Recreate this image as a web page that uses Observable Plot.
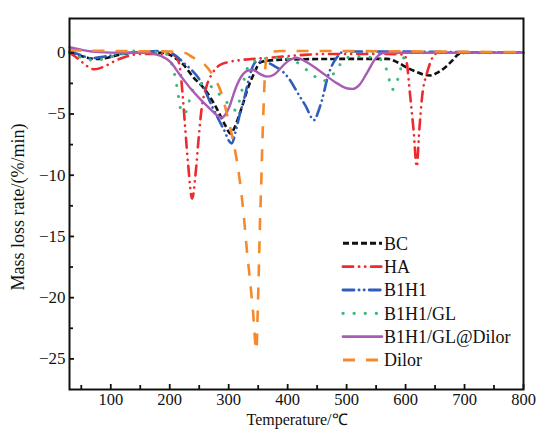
<!DOCTYPE html>
<html><head><meta charset="utf-8">
<script src="https://cdn.jsdelivr.net/npm/d3@7"></script>
<script src="https://cdn.jsdelivr.net/npm/@observablehq/plot@0.6"></script>
<style>body{margin:0;background:#fff}#chart{width:540px;height:429px}</style>
</head><body><div id="chart"></div>
<script>
// ---- data (temperature °C, mass loss rate %/min) ----
const bc = [[30,0],[45,-0.2],[60,-0.4],[75,-0.5],[95,-0.4],[115,-0.15],[135,0],[190,0],[205,-0.3],[222,-0.9],[240,-2.0],[258,-2.9],[278,-4.4],[295,-6.0],[303,-6.6],[310,-6.1],[317,-5.2],[324,-4.2],[331,-3.1],[342,-1.8],[353,-0.8],[365,-0.65],[400,-0.55],[500,-0.5],[570,-0.5],[585,-0.75],[602,-1.2],[618,-1.55],[632,-1.8],[642,-1.85],[655,-1.6],[667,-1.2],[680,-0.6],[690,-0.1],[700,0],[800,0]];
const ha = [[30,0],[45,-0.5],[60,-1.1],[72,-1.35],[90,-1.1],[110,-0.6],[130,-0.25],[150,-0.1],[200,-0.1],[212,-0.4],[218,-1.5],[222,-3.5],[226,-6],[231,-9],[238,-11.9],[244,-9.8],[249,-7],[254,-4.6],[262,-2.8],[272,-1.7],[285,-1.0],[300,-0.75],[320,-0.6],[370,-0.4],[420,-0.2],[460,-0.1],[560,-0.1],[598,-0.15],[602,-0.8],[608,-3.6],[613.5,-6.3],[619,-9.3],[623,-6.5],[628,-3.6],[636,-1.7],[642,-0.8],[650,-0.1],[660,0],[800,0]];
const b1h1 = [[30,0.1],[50,-0.2],[66,-0.45],[90,-0.3],[115,-0.1],[135,0],[180,0.15],[200,0],[212,-0.3],[223,-0.8],[237,-1.4],[252,-2.3],[272,-4.4],[291,-6.2],[305,-7.4],[313,-6.2],[320,-4.8],[326,-3.8],[333,-2.4],[340,-1.2],[348,-0.7],[362,-0.75],[378,-1.1],[393,-1.6],[405,-2.3],[416,-3.2],[430,-4.3],[445,-5.5],[452,-4.8],[458,-3.9],[469,-1.8],[484,-0.35],[495,0.1],[540,0.1],[800,0]];
const b1h1gl = [[30,0],[45,-0.3],[60,-0.55],[75,-0.6],[95,-0.4],[120,-0.1],[140,0.15],[190,0],[200,-0.5],[207,-1.5],[213,-3],[218,-4.5],[224,-5.0],[230,-4.5],[236,-3.4],[245,-2.7],[260,-2.5],[280,-3.2],[300,-4.2],[312,-4.7],[320,-3.6],[328,-1.8],[336,-0.9],[350,-0.6],[380,-0.4],[405,-0.5],[422,-1.0],[440,-1.7],[460,-2.3],[478,-1.7],[495,-0.6],[510,-0.3],[550,-0.4],[562,-0.8],[570,-1.7],[577,-3.0],[583,-2.7],[590,-1.6],[597,-0.4],[605,0],[800,0]];
const dilorMix = [[30,0.45],[50,0.25],[80,0.05],[120,0],[160,0],[175,-0.1],[185,-0.25],[201,-0.75],[218,-1.85],[235,-2.9],[252,-3.8],[269,-4.6],[280,-5.1],[288,-5.3],[295,-5.0],[302,-4.3],[311,-3.0],[322,-1.9],[333,-1.45],[342,-1.4],[352,-1.7],[365,-1.95],[378,-1.75],[393,-1.0],[405,-0.55],[415,-0.4],[430,-0.7],[455,-1.5],[484,-2.5],[500,-2.9],[510,-2.95],[522,-2.6],[535,-1.6],[550,-0.4],[565,0],[800,0]];
const dilor = [[30,0.2],[100,0.15],[200,0.1],[225,0],[240,-0.4],[258,-0.9],[275,-2.0],[287,-3.2],[296,-4.8],[304,-6.4],[312,-8.3],[319,-10.5],[325,-13],[331,-16.2],[336,-18.5],[341,-21],[347,-24.3],[349,-21.5],[351,-18],[353,-14],[355,-11],[357,-7.5],[359.5,-4.0],[362,-1.3],[366,0],[390,0.15],[800,0.05]];

const seriesNames = ["BC","HA","B1H1","B1H1/GL","B1H1/GL@Dilor","Dilor"];
const seriesData = [bc, ha, b1h1, b1h1gl, dilorMix, dilor];
const xTicks = [100,200,300,400,500,600,700,800];
const xMinor = [50,150,250,350,450,550,650,750];
const yTicks = [0,-5,-10,-15,-20,-25];
const yMinor = [-2.5,-7.5,-12.5,-17.5,-22.5];

// ---- styles ----
const styles = [
  {color:"#111111", dash:"6,3", cap:"butt", w:2.6},
  {color:"#ee2a2f", dash:"10,6,0.1,6,0.1,6", cap:"round", w:2.6},
  {color:"#2f5dbd", dash:"11,5,0.1,5,0.1,5", cap:"round", w:2.6},
  {color:"#3cb878", dash:"0.1,11", cap:"round", w:3},
  {color:"#a85cb5", dash:null, cap:"round", w:2.4},
  {color:"#f5892b", dash:"12,11", cap:"butt", w:2.6}
];

const W=540, H=429, mL=69, mR=17, mT=18, mB=40;
const innerW=W-mL-mR, innerH=H-mT-mB;
const font = "'Liberation Serif','Times New Roman',serif";

const svg = Plot.plot({
  width:W, height:H, marginLeft:mL, marginRight:mR, marginTop:mT, marginBottom:mB,
  style:{fontFamily:font, fontSize:"17px", color:"#111", background:"#fff"},
  x:{domain:[30,800]},
  y:{domain:[-27.5,2.8]},
  marks:[
    ...seriesData.map((d,i)=>Plot.line(d,{x:p=>p[0], y:p=>p[1], stroke:styles[i].color, strokeWidth:styles[i].w,
      strokeDasharray:styles[i].dash, strokeLinecap:styles[i].cap, strokeLinejoin:"round", curve:"monotone-x"})),
    Plot.tickX(xTicks,{x:d=>d, insetTop:innerH-5, strokeWidth:1.8, stroke:"#111"}),
    Plot.tickX(xMinor,{x:d=>d, insetTop:innerH-4, strokeWidth:1.8, stroke:"#111"}),
    Plot.tickY(yTicks,{y:d=>d, insetRight:innerW-5, strokeWidth:1.8, stroke:"#111"}),
    Plot.tickY(yMinor,{y:d=>d, insetRight:innerW-4, strokeWidth:1.8, stroke:"#111"}),
    Plot.axisX({ticks:xTicks, tickSize:0, tickPadding:4, label:null, fontSize:16.5}),
    Plot.axisY({ticks:yTicks, tickSize:0, tickPadding:4, label:null, fontSize:17}),
    Plot.frame({stroke:"#111", strokeWidth:2})
  ]
});
document.getElementById("chart").appendChild(svg);

const g = d3.select(svg).append("g").attr("font-family", font).attr("fill", "#111");
g.append("text").attr("x", 297).attr("y", 425.3).attr("text-anchor","middle").attr("font-size",16).text("Temperature/℃");
g.append("text").attr("transform","translate(24,207) rotate(-90)").attr("text-anchor","middle").attr("font-size",18).text("Mass loss rate/(%/min)");

const lg = g.append("g");
seriesNames.forEach((name,i)=>{
  const y = 243.3 + i*23.35;
  const s = styles[i];
  lg.append("line").attr("x1",343).attr("x2",382).attr("y1",y).attr("y2",y)
    .attr("stroke",s.color).attr("stroke-width",s.w+0.3).attr("stroke-dasharray",s.dash).attr("stroke-linecap",s.cap);
  lg.append("text").attr("x",384).attr("y",y+6.2).attr("text-anchor","start").attr("font-size",18).text(name);
});
</script></body></html>
